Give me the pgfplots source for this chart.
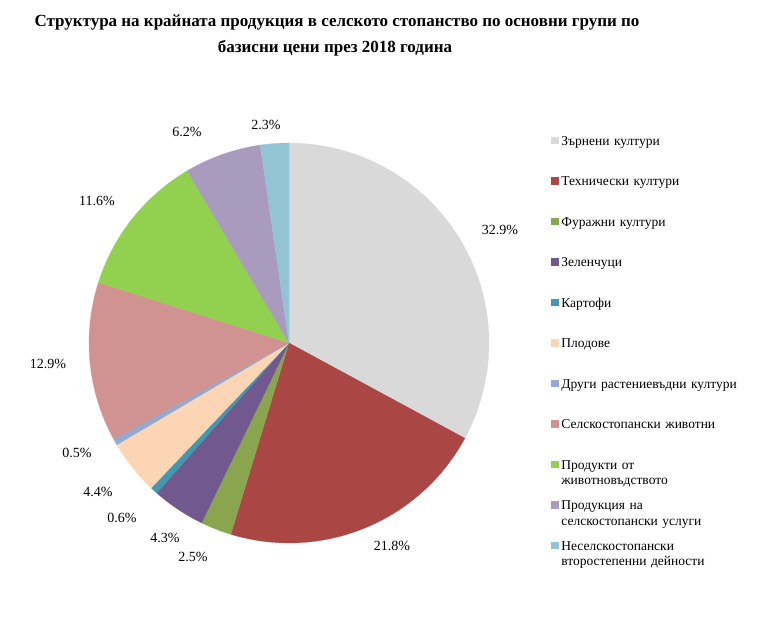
\documentclass[border=0pt]{standalone}
\usepackage{fontspec}
\setmainfont{Liberation Serif}
\usepackage{pgfplots}
\pgfplotsset{compat=1.18}
\definecolor{c1}{HTML}{D9D9D9}
\definecolor{c2}{HTML}{AA4643}
\definecolor{c3}{HTML}{89A54E}
\definecolor{c4}{HTML}{71588F}
\definecolor{c5}{HTML}{4198AF}
\definecolor{c6}{HTML}{FCD5B5}
\definecolor{c7}{HTML}{93A9CF}
\definecolor{c8}{HTML}{D19392}
\definecolor{c9}{HTML}{92D050}
\definecolor{c10}{HTML}{A99BBD}
\definecolor{c11}{HTML}{93C4D5}
\pgfplotsset{legend image code/.code={\fill[#1] (0pt,2pt) rectangle (6.5pt,8.5pt);}}
% #1 = cumulative start (%), #2 = value (%), #3 = colour
\newcommand\slice[3]{%
  \addplot[fill=#3, draw=#3, line width=0.2pt, domain={90-3.6*#1}:{90-3.6*(#1+#2)},
    samples=90, variable=\t]
    ({289+200*cos(t)},{283+200*sin(t)}) -- (axis cs:289,283) -- cycle;}
\begin{document}
\begin{tikzpicture}
\path[use as bounding box] (0pt,0pt) rectangle (768pt,626pt);
\begin{axis}[at={(0pt,0pt)}, anchor=south west, scale only axis,
  width=768pt, height=626pt, xmin=0, xmax=768, ymin=0, ymax=626,
  hide axis, clip=false,
  legend style={at={(axis cs:551,491)}, anchor=north west, draw=none, fill=none,
    inner sep=0pt, row sep=10pt, column sep=3.5pt,
    font=\fontsize{13.5}{15.5}\selectfont,
    nodes={inner sep=0pt, text height=10pt, text depth=20.5pt, text width=180pt, align=left},
    cells={anchor=base west}},
]
\slice{0}{32.9}{c1}    \addlegendentry{Зърнени култури}
\slice{32.9}{21.8}{c2} \addlegendentry{Технически култури}
\slice{54.7}{2.5}{c3}  \addlegendentry{Фуражни култури}
\slice{57.2}{4.3}{c4}  \addlegendentry{Зеленчуци}
\slice{61.5}{0.6}{c5}  \addlegendentry{Картофи}
\slice{62.1}{4.4}{c6}  \addlegendentry{Плодове}
\slice{66.5}{0.5}{c7}  \addlegendentry{Други растениевъдни култури}
\slice{67.0}{12.9}{c8} \addlegendentry{Селскостопански животни}
\slice{79.9}{11.6}{c9} \addlegendentry{Продукти от\\животновъдството}
\slice{91.5}{6.2}{c10} \addlegendentry{Продукция на\\селскостопански услуги}
\slice{97.7}{2.3}{c11} \addlegendentry{Неселскостопански\\второстепенни дейности}
\begin{scope}[every node/.style={font=\fontsize{14}{16}\selectfont, inner sep=0pt}]
\node at (axis cs:500,396) {32.9\%};
\node at (axis cs:392,80) {21.8\%};
\node at (axis cs:193,69) {2.5\%};
\node at (axis cs:165,88) {4.3\%};
\node at (axis cs:122,108) {0.6\%};
\node at (axis cs:98,134) {4.4\%};
\node at (axis cs:77,173) {0.5\%};
\node at (axis cs:48,262) {12.9\%};
\node at (axis cs:97,425) {11.6\%};
\node at (axis cs:187,494) {6.2\%};
\node at (axis cs:266,501) {2.3\%};
\end{scope}
\node[font=\fontsize{17}{20}\selectfont\bfseries] at (axis cs:337,604) {Структура на крайната продукция в селското стопанство по основни групи по};
\node[font=\fontsize{17}{20}\selectfont\bfseries] at (axis cs:335,578) {базисни цени през 2018 година};
\end{axis}
\end{tikzpicture}
\end{document}
